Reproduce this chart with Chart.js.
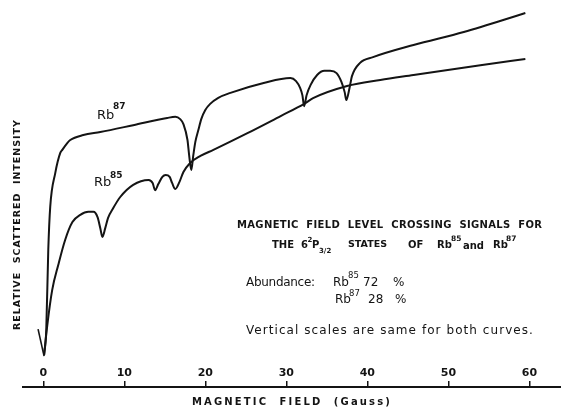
<!DOCTYPE html>
<html>
<head>
<meta charset="utf-8">
<script src="https://cdn.jsdelivr.net/npm/chart.js@4"></script>
<style>
  html, body { margin: 0; padding: 0; background: #fff; }
  #wrap { width: 561px; height: 408px; position: relative; }
</style>
</head>
<body>
<div id="wrap"><canvas id="chart"></canvas></div>
<script>
// field in gauss, signal in relative units (same vertical scale for both curves)
const rb87Field  = [0.1, 0.37, 0.62, 0.86, 1.48, 2.1, 2.35, 2.96, 3.33, 4.94, 7.04, 11.1, 15.3, 16.3, 16.9, 17.3, 17.8, 18.0, 18.27, 18.52, 18.77, 19.14, 19.5, 20.0, 20.6, 21.6, 23.1, 27.2, 30.5, 31.2, 31.7, 31.98, 32.2, 32.5, 33.0, 33.8, 34.7, 35.4, 36.2, 36.8, 37.2, 37.4, 37.8, 38.1, 39.1, 40.7, 45.7, 51.9, 59.5];
const rb87Signal = [8.4, 15.0, 36.1, 47.4, 56.3, 61.6, 62.4, 64.2, 65.0, 66.3, 67.1, 68.9, 70.8, 71.1, 70.5, 69.2, 65.0, 61.1, 57.1, 61.0, 64.5, 67.6, 70.5, 72.9, 74.5, 76.1, 77.4, 80.0, 81.3, 80.5, 78.7, 76.8, 73.9, 76.8, 79.5, 82.1, 83.2, 83.2, 82.6, 80.3, 77.6, 75.5, 78.7, 81.8, 85.3, 86.8, 90.0, 93.4, 98.4];

const rb85Field  = [0.1, 0.5, 1.1, 1.85, 2.7, 3.6, 4.57, 5.56, 6.2, 6.7, 7.04, 7.3, 7.65, 8.0, 8.64, 9.5, 11.1, 13.0, 13.5, 13.8, 14.2, 14.7, 15.1, 15.6, 15.9, 16.3, 16.8, 17.3, 18.1, 19.4, 21.0, 25.2, 29.3, 32.2, 33.3, 37.5, 41.6, 45.7, 53.95, 59.5];
const rb85Signal = [8.4, 16.3, 25.5, 32.1, 38.7, 43.4, 45.3, 46.1, 46.1, 44.7, 41.8, 39.5, 41.8, 44.5, 47.1, 50.0, 53.2, 54.5, 53.7, 51.8, 53.4, 55.3, 55.8, 55.3, 53.7, 52.1, 53.9, 56.6, 58.9, 60.8, 62.4, 66.8, 71.3, 74.5, 76.0, 79.2, 80.8, 82.1, 84.7, 86.3];

const fieldTicks = [0, 10, 20, 30, 40, 50, 60];
const xTitle = 'MAGNETIC  FIELD  (Gauss)';
const yTitle = 'RELATIVE  SCATTERED  INTENSITY';

const FONT = "'DejaVu Sans', sans-serif";
const INK = '#141414';

function toPoints(xs, ys) {
  return xs.map((x, i) => ({ x: x, y: ys[i] }));
}

// draw text, optionally stretched with letter spacing to a given width
function put(ctx, text, x, y, size, weight, width) {
  ctx.font = weight + ' ' + size + 'px ' + FONT;
  ctx.letterSpacing = '0px';
  if (width) {
    const w = ctx.measureText(text).width;
    ctx.letterSpacing = ((width - w) / Math.max(text.length - 1, 1)).toFixed(2) + 'px';
  }
  ctx.fillText(text, x, y);
  ctx.letterSpacing = '0px';
}

const lettering = {
  id: 'lettering',
  beforeDraw(chart) {
    // spread the axis title like the original stencil lettering
    const ctx = chart.ctx;
    ctx.font = 'bold 10px ' + FONT;
    ctx.letterSpacing = '0px';
    const w = ctx.measureText(xTitle).width;
    ctx.letterSpacing = ((198 - w) / (xTitle.length - 1)).toFixed(2) + 'px';
  },
  beforeDatasetsDraw(chart) {
    // tick labels (z: 1) are drawn after this, without the spacing
    chart.ctx.letterSpacing = '0px';
  },
  afterDraw(chart) {
    const ctx = chart.ctx;
    const xs = chart.scales.x, ys = chart.scales.y;
    ctx.save();
    ctx.fillStyle = INK;
    ctx.strokeStyle = INK;
    ctx.textBaseline = 'middle';
    ctx.textAlign = 'left';

    // arrow marking zero field
    const ax = xs.getPixelForValue(rb87Field[0]);
    const ay = ys.getPixelForValue(rb87Signal[0]);
    ctx.lineWidth = 1.6;
    ctx.beginPath();
    ctx.moveTo(ax - 6, ay - 26);
    ctx.lineTo(ax, ay + 1);
    ctx.stroke();

    // curve labels
    put(ctx, 'Rb', 97, 116, 13, 'normal');
    put(ctx, '87', 113, 107, 9, 'bold');
    put(ctx, 'Rb', 94, 183, 13, 'normal');
    put(ctx, '85', 110, 176, 9, 'bold');

    // caption block
    put(ctx, 'MAGNETIC  FIELD  LEVEL  CROSSING  SIGNALS  FOR', 237, 225, 10, 'bold', 305);
    put(ctx, 'THE', 272, 245, 10, 'bold');
    put(ctx, '6', 301, 245, 10, 'bold');
    put(ctx, '2', 307.5, 240, 7, 'bold');
    put(ctx, 'P', 312, 245, 10, 'bold');
    put(ctx, '3/2', 319, 251, 7, 'bold');
    put(ctx, 'STATES', 348, 245, 9.5, 'bold');
    put(ctx, 'OF', 408, 245, 10, 'bold');
    put(ctx, 'Rb', 437, 245, 10, 'bold');
    put(ctx, '85', 451, 239, 7.5, 'bold');
    put(ctx, 'and', 463, 246, 10, 'bold');
    put(ctx, 'Rb', 493, 245, 10, 'bold');
    put(ctx, '87', 506, 239, 7.5, 'bold');

    put(ctx, 'Abundance:', 246, 283, 12, 'normal', 69);
    put(ctx, 'Rb', 333, 283, 12, 'normal');
    put(ctx, '85', 348, 276, 8.5, 'normal');
    put(ctx, '72', 363, 283, 12, 'normal');
    put(ctx, '%', 393, 283, 12, 'normal');
    put(ctx, 'Rb', 335, 300, 12, 'normal');
    put(ctx, '87', 349, 294, 8.5, 'normal');
    put(ctx, '28', 368, 300, 12, 'normal');
    put(ctx, '%', 395, 300, 12, 'normal');

    put(ctx, 'Vertical scales are same for both curves.', 246, 331, 12, 'normal', 287);

    // vertical axis title
    ctx.translate(18, 225);
    ctx.rotate(-Math.PI / 2);
    put(ctx, yTitle, -105, 0, 9.5, 'bold', 210);
    ctx.restore();
  }
};

new Chart(document.getElementById('chart'), {
  type: 'line',
  data: {
    datasets: [
      {
        label: 'Rb87',
        data: toPoints(rb87Field, rb87Signal),
        borderColor: INK,
        borderWidth: 2,
        pointRadius: 0,
        cubicInterpolationMode: 'monotone',
        fill: false
      },
      {
        label: 'Rb85',
        data: toPoints(rb85Field, rb85Signal),
        borderColor: INK,
        borderWidth: 2,
        pointRadius: 0,
        cubicInterpolationMode: 'monotone',
        fill: false
      }
    ]
  },
  options: {
    responsive: true,
    maintainAspectRatio: false,
    animation: false,
    layout: { padding: { left: 23, right: 0, top: 7, bottom: 0 } },
    plugins: {
      legend: { display: false },
      tooltip: { enabled: false }
    },
    scales: {
      x: {
        type: 'linear',
        min: -2.5,
        max: 63.9,
        afterBuildTicks: (scale) => {
          scale.ticks = fieldTicks.map(v => ({ value: v }));
        },
        grid: {
          drawOnChartArea: false,
          drawTicks: true,
          tickLength: -6,
          color: INK,
          lineWidth: 1.5
        },
        border: { display: true, color: INK, width: 2 },
        ticks: {
          mirror: true,   // labels sit above the axis line
          padding: 7,
          z: 1,
          autoSkip: false,
          maxRotation: 0,
          color: INK,
          font: { family: FONT, size: 11, weight: 'bold' }
        },
        title: {
          display: true,
          text: xTitle,
          color: INK,
          font: { family: FONT, size: 10, weight: 'bold' },
          padding: { top: 1, bottom: 0 }
        }
      },
      y: {
        display: false,
        min: 0,
        max: 100
      }
    }
  },
  plugins: [lettering]
});
</script>
</body>
</html>
